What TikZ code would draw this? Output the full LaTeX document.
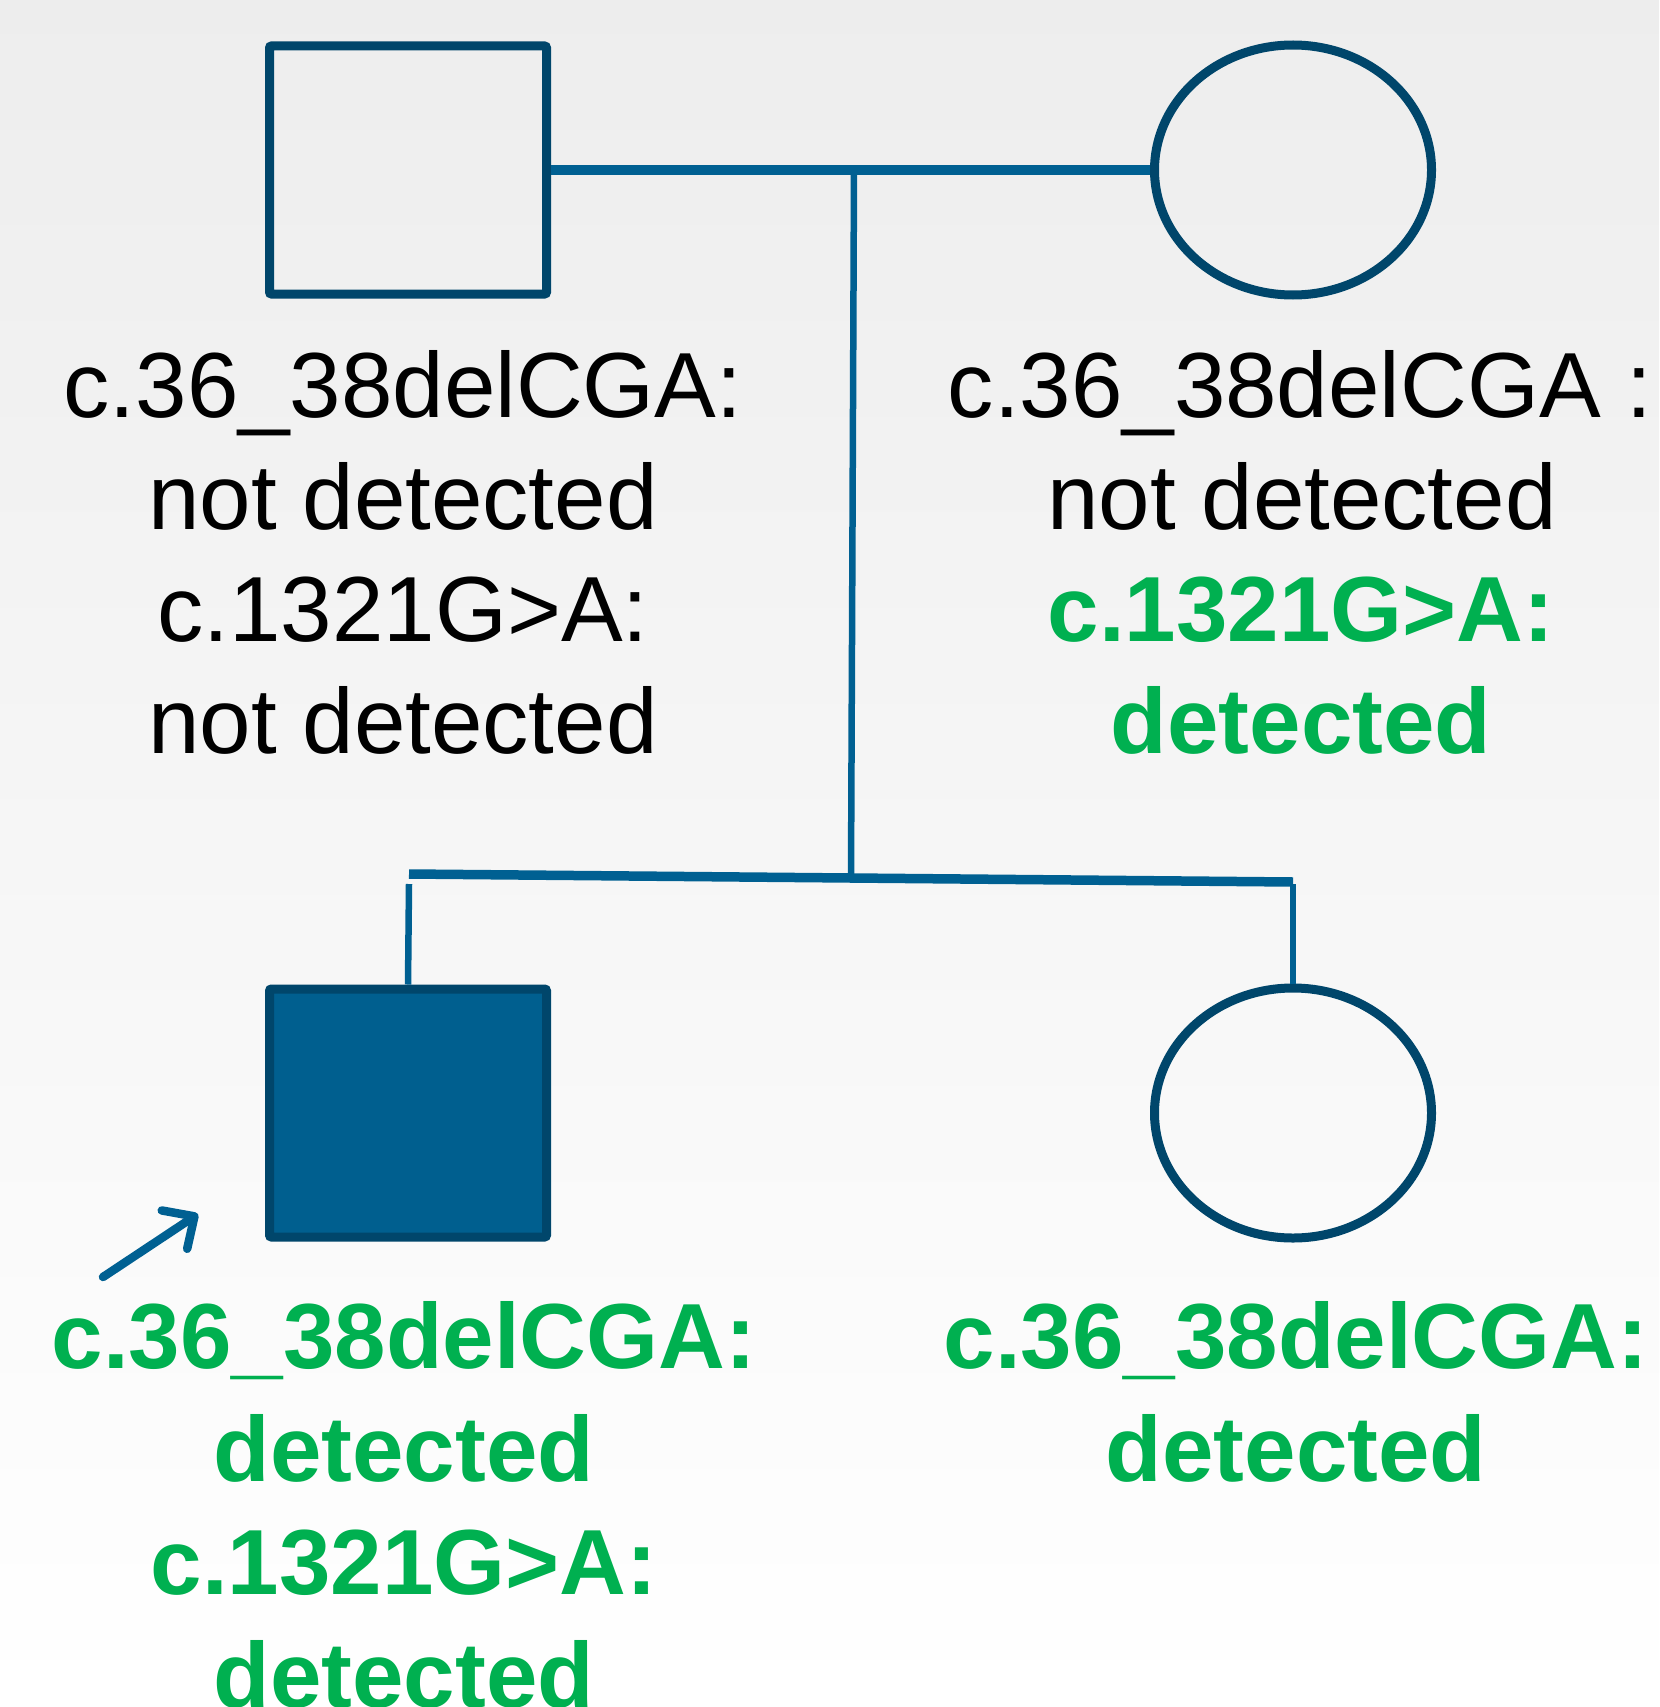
\documentclass[tikz,border=0pt]{standalone}
\usepackage{fontspec}
\setmainfont{Liberation Sans}
\usetikzlibrary{arrows.meta,shapes.geometric}
\definecolor{pedborder}{RGB}{0,70,107}
\definecolor{pedline}{RGB}{0,96,146}
\definecolor{pedfill}{RGB}{0,95,143}
\definecolor{pedgreen}{RGB}{0,176,80}
\begin{document}
\begin{tikzpicture}[x=1pt,y=-1pt,
  sq/.style={draw=pedborder,line width=9pt,rectangle,rounded corners=2pt,minimum width=277pt,minimum height=248pt,inner sep=0pt},
  circ/.style={draw=pedborder,line width=9pt,ellipse,minimum width=277pt,minimum height=250pt,inner sep=0pt},
  lnk/.style={draw=pedline,line width=9.5pt},
  drop/.style={draw=pedline,line width=6.5pt},
  blk/.style={anchor=base,font=\fontsize{92.5}{112}\selectfont,text=black,inner sep=0pt},
  grn/.style={anchor=base,font=\fontsize{92.5}{112}\selectfont\bfseries,text=pedgreen,inner sep=0pt}]
\useasboundingbox (0,0) rectangle (1659,1707);
\shade[top color=gray!14,bottom color=white] (0,0) rectangle (1659,1707);
\begin{scope}
\clip (0,0) rectangle (1659,1707);
% parents
\node[sq] (father) at (408,170) {};
\node[circ] (mother) at (1293,170) {};
% children
\node[sq,fill=pedfill] (proband) at (408,1113) {};
\node[circ] (daughter) at (1293,1113) {};
% connectors
\coordinate (mid) at (854,170);
\coordinate (sib) at (851,878);
\coordinate (sibL) at (409,874);
\coordinate (sibR) at (1293,882);
\coordinate (dropL) at (409,884);
\coordinate (dropR) at (1293,884);
\draw[lnk] (father.east) -- (mother.west);
\draw[drop] (mid) -- (sib);
\draw[lnk] (sibL) -- (sibR);
\draw[drop] (dropL) -- (proband.north);
\draw[drop] (dropR) -- (daughter.north);
% proband arrow
\coordinate (arrS) at (103,1277);
\coordinate (arrE) at (198,1214);
\draw[pedline,line width=8.5pt,line cap=round,-{Straight Barb[length=24pt,width=46pt,line cap=round,line join=round]}] (arrS) -- (arrE);
% texts
\node[blk] (f1) at (403,417) {c.36\_38delCGA:};
\node[blk] (f2) at (403,529) {not detected};
\node[blk] (f3) at (403,641) {c.1321G>A:};
\node[blk] (f4) at (403,753) {not detected};
\node[blk] (m1) at (1300,417) {c.36\_38delCGA :};
\node[blk] (m2) at (1302,529) {not detected};
\node[grn] (m3) at (1301,641) {c.1321G>A:};
\node[grn] (m4) at (1301,753) {detected};
\node[grn] (p1) at (404,1368) {c.36\_38delCGA:};
\node[grn] (p2) at (404,1481) {detected};
\node[grn] (p3) at (404,1594) {c.1321G>A:};
\node[grn] (p4) at (404,1707) {detected};
\node[grn] (d1) at (1296,1368) {c.36\_38delCGA:};
\node[grn] (d2) at (1296,1481) {detected};
\end{scope}
\end{tikzpicture}
\end{document}
